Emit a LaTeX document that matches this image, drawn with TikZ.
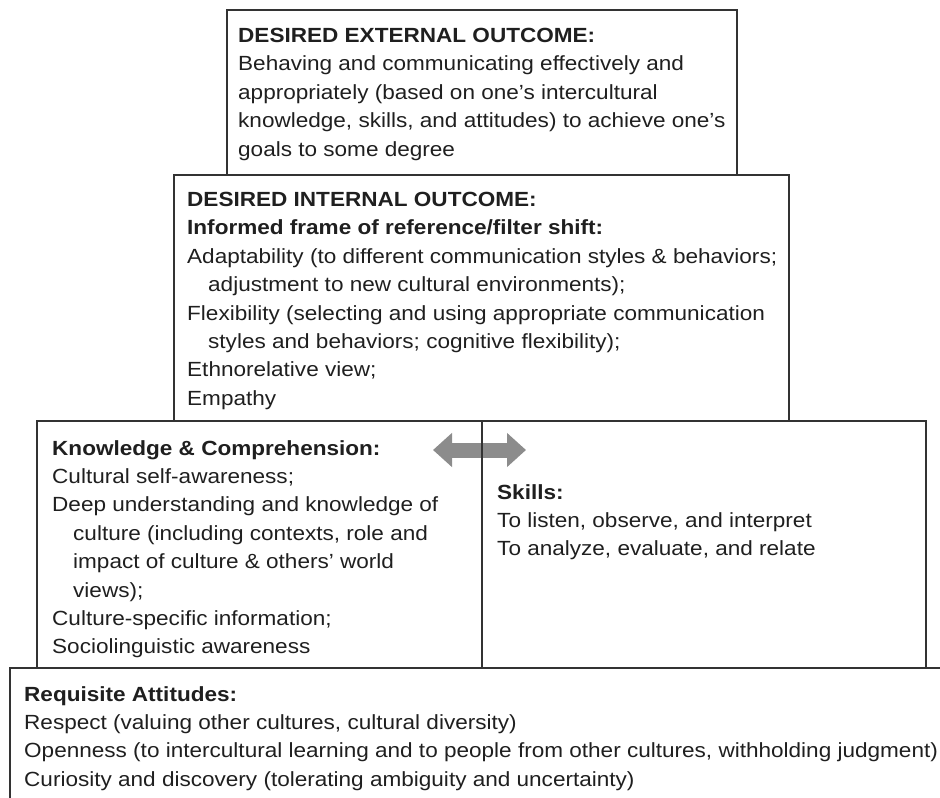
\documentclass[tikz,border=0pt]{standalone}
\usepackage{fontspec}
\setmainfont{Liberation Sans}[FakeStretch=1.1]
\usetikzlibrary{positioning,arrows.meta}
\usetikzlibrary{backgrounds}
\definecolor{frame}{rgb}{0.2,0.2,0.2}
\definecolor{arrowgrey}{rgb}{0.55,0.55,0.55}
\definecolor{ink}{rgb}{0.12,0.12,0.12}

\begin{document}
\begin{tikzpicture}[
  x = 1pt,
  y = -1pt,
  box/.style = {
    draw = frame,
    rectangle,
    line width = 1.5pt,
    anchor = north west,
    inner sep = 0pt,
  },
  txt/.style = {
    align = left,
    inner sep = 0pt,
    text = ink,
    font = \fontsize{20.5}{28.4}\selectfont,
  },
  >={Triangle[length=19pt,width=33pt]},
]
  \clip (0,0) rectangle (940,798);

  %
  \node[box, minimum width=510pt, minimum height=165pt] (ext) at (226,9) {};
  \node[box, minimum width=615pt, minimum height=246pt] (int) at (173,174) {};
  \node[box, minimum width=445pt, minimum height=247pt] (know) at (36,420) {};
  \node[box, minimum width=444pt, minimum height=247pt] (skill) at (481,420) {};
  \node[box, minimum width=951pt, minimum height=153pt] (att) at (9,667) {};

  %
  \node[txt, below right=19pt and 12pt of ext.north west] (extt) {%
    \textbf{DESIRED EXTERNAL OUTCOME:}\\
    Behaving and communicating effectively and\\
    appropriately (based on one’s intercultural\\
    knowledge, skills, and attitudes) to achieve one’s\\
    goals to some degree};

  \node[txt, below right=18pt and 14pt of int.north west] (intt) {%
    \textbf{DESIRED INTERNAL OUTCOME:}\\
    \textbf{Informed frame of reference/filter shift:}\\
    Adaptability (to different communication styles \& behaviors;\\
    \hspace*{21pt}adjustment to new cultural environments);\\
    Flexibility (selecting and using appropriate communication\\
    \hspace*{21pt}styles and behaviors; cognitive flexibility);\\
    Ethnorelative view;\\
    Empathy};

  \node[txt, below right=20pt and 16pt of know.north west] (knowt) {%
    \textbf{Knowledge \& Comprehension:}\\
    Cultural self-awareness;\\
    Deep understanding and knowledge of\\
    \hspace*{21pt}culture (including contexts, role and\\
    \hspace*{21pt}impact of culture \& others’ world\\
    \hspace*{21pt}views);\\
    Culture-specific information;\\
    Sociolinguistic awareness};

  \node[txt, below right=64pt and 16pt of skill.north west] (skillt) {%
    \textbf{Skills:}\\
    To listen, observe, and interpret\\
    To analyze, evaluate, and relate};

  \node[txt, below right=19pt and 15pt of att.north west] (attt) {%
    \textbf{Requisite Attitudes:}\\
    Respect (valuing other cultures, cultural diversity)\\
    Openness (to intercultural learning and to people from other cultures, withholding judgment)\\
    Curiosity and discovery (tolerating ambiguity and uncertainty)};

  %
  \coordinate (al) at (433,450);
  \coordinate (ar) at (526,450);
  \begin{scope}[on background layer]
    \draw[<->, arrowgrey, line width=15pt] (al) -- (ar);
  \end{scope}

\end{tikzpicture}
\end{document}
